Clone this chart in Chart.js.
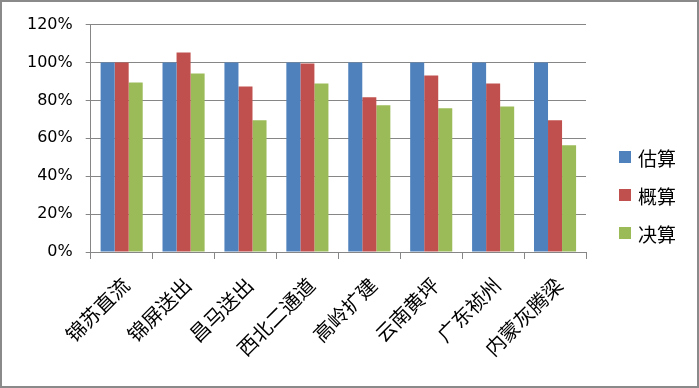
<!DOCTYPE html>
<html>
<head>
<meta charset="utf-8">
<script src="https://cdn.jsdelivr.net/npm/chart.js@4"></script>
<style>
  html, body { margin: 0; padding: 0; background: #fff; }
  .frame {
    position: relative;
    width: 699px;
    height: 388px;
    box-sizing: border-box;
    border: 2px solid #8a8a8a;
    background: #fff;
  }
  .frame canvas { position: absolute; left: 0; top: 0; }
  .legend {
    position: absolute;
    left: 617px;
    top: 136px;
    font-family: "Noto Sans CJK SC", sans-serif;
    font-size: 19px;
    color: #000;
  }
  .legend .item { height: 38px; display: flex; align-items: center; }
  .legend .box { width: 12px; height: 12px; margin-right: 7px; }
</style>
</head>
<body>
<div class="frame">
  <canvas id="c" width="695" height="384"></canvas>
  <div class="legend" id="legend"></div>
</div>
<script>
const categories = ["锦苏直流", "锦屏送出", "昌马送出", "西北二通道", "高岭扩建", "云南黄坪", "广东祯州", "内蒙灰腾梁"];
const seriesNames = ["估算", "概算", "决算"];
const estimate = [100, 100, 100, 100, 100, 100, 100, 100];
const budget = [100, 105.3, 87.4, 99.5, 81.6, 93.2, 88.9, 69.5];
const settlement = [89.5, 94.2, 69.5, 88.9, 77.4, 75.8, 76.8, 56.3];
const colors = ["#4F81BD", "#C0504D", "#9BBB59"];

const gridColor = "#868686";
const tickFont = { family: "DejaVu Sans", size: 16 };

// legend on the right, built from the series
const legendEl = document.getElementById("legend");
seriesNames.forEach((name, i) => {
  const item = document.createElement("div");
  item.className = "item";
  item.innerHTML = `<span class="box" style="background:${colors[i]}"></span><span>${name}</span>`;
  legendEl.appendChild(item);
});

new Chart(document.getElementById("c"), {
  type: "bar",
  data: {
    labels: categories,
    datasets: [estimate, budget, settlement].map((values, i) => ({
      label: seriesNames[i],
      data: values,
      backgroundColor: colors[i],
      borderWidth: 0,
      categoryPercentage: 0.68,
      barPercentage: 1
    }))
  },
  options: {
    responsive: false,
    animation: false,
    layout: { padding: { left: 0, right: 111, top: 22, bottom: 0 } },
    plugins: {
      legend: { display: false },
      tooltip: { enabled: false }
    },
    scales: {
      x: {
        grid: { drawOnChartArea: false, color: gridColor, tickLength: 7, offset: true },
        border: { color: gridColor },
        ticks: {
          minRotation: 45,
          maxRotation: 45,
          color: "#000",
          font: { family: "Noto Sans CJK SC", size: 20 },
          padding: 14,
          labelOffset: 4
        },
        afterFit: s => { s.height = 134; }
      },
      y: {
        min: 0,
        max: 120,
        ticks: {
          stepSize: 20,
          color: "#000",
          font: tickFont,
          padding: 13,
          callback: v => v + "%"
        },
        grid: { color: gridColor, tickLength: 5 },
        border: { color: gridColor },
        afterFit: s => { s.width = 88.7; }
      }
    }
  }
});
</script>
</body>
</html>
